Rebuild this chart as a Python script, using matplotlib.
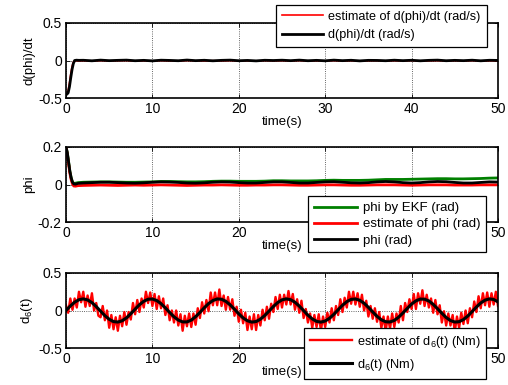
import numpy as np
import matplotlib
matplotlib.use("Agg")
import matplotlib.pyplot as plt

plt.rcParams["font.family"] = ["Liberation Sans", "DejaVu Sans"]
plt.rcParams["mathtext.default"] = "regular"
plt.rcParams["font.size"] = 9

# ---- d(phi)/dt: fast transient, then steady samples every second ----
t_rate_head = [0.0, 0.1, 0.25, 0.4, 0.55, 0.7, 0.85, 1.0, 1.2, 1.5]
rate_true_head = [-0.45, -0.45, -0.43, -0.35, -0.23, -0.12, -0.04, 0.0, 0.004, 0.002]
rate_est_head = [-0.45, -0.44, -0.40, -0.30, -0.18, -0.08, -0.02, -0.006, -0.004, -0.006]
t_tail = list(range(2, 51))
rate_true_tail = [0.003, -0.004, 0.005, -0.002, 0.002, 0.005, -0.003,
                  0.002, -0.005, 0.004, 0.001, -0.003, 0.006, -0.002,
                  0.003, -0.004, 0.002, 0.005, -0.003, 0.001, -0.005,
                  0.003, 0.000, 0.004, -0.002, 0.005, -0.003, 0.002,
                  -0.004, 0.005, -0.002, 0.003, -0.005, 0.002, 0.001,
                  -0.003, 0.004, -0.002, 0.003, -0.004, 0.002, 0.005,
                  -0.003, 0.002, -0.002, 0.004, -0.004, 0.003, 0.001]
rate_est_tail = [-0.004, -0.007, -0.002, -0.006, -0.003, -0.001, -0.008,
                 -0.004, -0.006, -0.002, -0.005, -0.007, -0.001, -0.004,
                 -0.006, -0.003, -0.005, -0.002, -0.007, -0.004, -0.006,
                 -0.002, -0.005, -0.003, -0.006, -0.001, -0.007, -0.004,
                 -0.005, -0.002, -0.006, -0.003, -0.007, -0.004, -0.002,
                 -0.006, -0.003, -0.005, -0.001, -0.007, -0.004, -0.002,
                 -0.006, -0.003, -0.005, -0.002, -0.007, -0.004, -0.003]

# ---- phi: true, observer estimate, EKF ----
t_phi_head = [0.0, 0.15, 0.3, 0.45, 0.6, 0.75, 0.9, 1.1, 1.4]
phi_true_head = [0.20, 0.17, 0.12, 0.07, 0.035, 0.012, 0.003, 0.002, 0.006]
phi_est_head = [0.20, 0.16, 0.11, 0.06, 0.025, 0.003, -0.008, -0.009, -0.006]
phi_ekf_head = [0.20, 0.17, 0.12, 0.07, 0.035, 0.013, 0.006, 0.007, 0.010]
phi_true_tail = [0.008, 0.010, 0.012, 0.012, 0.010, 0.008, 0.007,
                 0.009, 0.012, 0.014, 0.013, 0.011, 0.008, 0.007,
                 0.009, 0.012, 0.014, 0.013, 0.010, 0.008, 0.008,
                 0.011, 0.014, 0.014, 0.011, 0.008, 0.008, 0.011,
                 0.014, 0.015, 0.012, 0.009, 0.008, 0.010, 0.014,
                 0.016, 0.014, 0.010, 0.008, 0.010, 0.014, 0.016,
                 0.015, 0.011, 0.008, 0.008, 0.011, 0.014, 0.013]
phi_ekf_tail = [0.012, 0.013, 0.014, 0.014, 0.013, 0.012, 0.012,
                0.013, 0.014, 0.016, 0.016, 0.015, 0.014, 0.014,
                0.015, 0.017, 0.018, 0.018, 0.017, 0.017, 0.017,
                0.018, 0.020, 0.020, 0.019, 0.019, 0.019, 0.020,
                0.022, 0.023, 0.022, 0.022, 0.022, 0.023, 0.025,
                0.027, 0.027, 0.027, 0.028, 0.029, 0.030, 0.031,
                0.031, 0.030, 0.030, 0.031, 0.032, 0.034, 0.035]
phi_est_tail = [-0.005, -0.004, -0.003, -0.004, -0.005, -0.004, -0.003,
                -0.004, -0.003, -0.002, -0.003, -0.004, -0.005, -0.004,
                -0.003, -0.003, -0.002, -0.003, -0.004, -0.004, -0.003,
                -0.003, -0.002, -0.002, -0.003, -0.004, -0.004, -0.003,
                -0.002, -0.002, -0.003, -0.004, -0.004, -0.003, -0.002,
                -0.002, -0.002, -0.003, -0.004, -0.003, -0.002, -0.002,
                -0.002, -0.003, -0.003, -0.003, -0.002, -0.002, -0.002]

# ---- disturbance d6(t): true every 0.5 s, estimate every 0.25 s ----
t_d6 = np.arange(0, 50.01, 0.5)
d6_true = [0.000, 0.060, 0.111, 0.144, 0.155, 0.141, 0.105, 0.052, -0.009,
           -0.069, -0.117, -0.148, -0.154, -0.137, -0.098, -0.043, 0.018,
           0.077, 0.123, 0.150, 0.153, 0.133, 0.091, 0.035, -0.027, -0.084,
           -0.128, -0.152, -0.152, -0.128, -0.083, -0.026, 0.036, 0.092,
           0.133, 0.154, 0.150, 0.122, 0.075, 0.017, -0.045, -0.099, -0.137,
           -0.155, -0.147, -0.116, -0.067, -0.008, 0.053, 0.106, 0.142,
           0.155, 0.144, 0.110, 0.059, -0.001, -0.062, -0.112, -0.145,
           -0.155, -0.140, -0.104, -0.051, 0.010, 0.070, 0.118, 0.148,
           0.154, 0.136, 0.097, 0.042, -0.019, -0.078, -0.124, -0.150,
           -0.153, -0.132, -0.089, -0.033, 0.028, 0.086, 0.129, 0.152,
           0.151, 0.127, 0.082, 0.024, -0.037, -0.093, -0.134, -0.154,
           -0.149, -0.121, -0.074, -0.015, 0.046, 0.100, 0.138, 0.155,
           0.147, 0.115]
t_d6_est = np.arange(0, 50.01, 0.25)
d6_est = [0.07, -0.03, 0.16, 0.01, 0.16, 0.04, 0.25, 0.11,
          0.25, 0.05, 0.20, 0.06, 0.23, 0.00, 0.10, -0.07,
          -0.09, 0.06, -0.13, -0.00, -0.23, -0.06, -0.25, -0.09,
          -0.27, -0.07, -0.21, -0.02, -0.19, -0.02, -0.12, 0.10,
          -0.05, 0.14, -0.02, 0.16, 0.04, 0.25, 0.10, 0.24,
          0.06, 0.22, 0.02, 0.19, 0.03, 0.16, -0.06, 0.07,
          -0.13, 0.00, -0.16, 0.00, -0.20, -0.05, -0.27, -0.07,
          -0.21, -0.04, -0.22, -0.04, -0.19, 0.03, -0.10, 0.11,
          -0.04, 0.14, -0.01, 0.24, 0.07, 0.24, 0.07, 0.28,
          0.06, 0.20, 0.01, 0.18, 0.01, 0.15, -0.07, 0.05,
          -0.15, 0.01, -0.17, -0.03, -0.26, -0.08, -0.25, -0.05,
          -0.26, -0.06, -0.20, 0.01, -0.13, 0.05, -0.11, 0.09,
          -0.02, 0.18, 0.02, 0.21, 0.04, 0.21, 0.08, 0.26,
          0.08, 0.22, 0.01, 0.15, -0.03, 0.13, -0.10, 0.02,
          -0.16, -0.04, -0.23, -0.06, -0.22, -0.05, -0.27, -0.08,
          -0.22, -0.03, -0.16, 0.03, -0.13, 0.06, -0.06, 0.15,
          -0.02, 0.17, 0.04, 0.25, 0.09, 0.25, 0.08, 0.23,
          0.05, 0.21, 0.00, 0.13, -0.08, 0.06, -0.11, 0.03,
          -0.15, -0.02, -0.23, -0.08, -0.27, -0.08, -0.24, -0.04,
          -0.22, -0.04, -0.16, 0.06, -0.13, 0.10, -0.02, 0.15,
          0.02, 0.22, 0.02, 0.23, 0.09, 0.27, 0.06, 0.21,
          0.04, 0.16, -0.03, 0.14, -0.05, 0.07, -0.16, -0.01,
          -0.20, -0.04, -0.20, -0.06, -0.28, -0.08, -0.23, -0.03,
          -0.18, 0.00, -0.17, 0.03, -0.09, 0.12, -0.02, 0.19,
          0.03, 0.23, 0.07, 0.24, 0.05, 0.23, 0.08, 0.25, 0.06]

x_ticks = [0, 10, 20, 30, 40, 50]

RED = "#ff0000"
GREEN = "#008000"
BLACK = "#000000"


def style_axis(ax, yticks, hidden=()):
    ax.set_xlim(0, 50)
    ax.set_ylim(yticks[0], yticks[-1])
    ax.set_xticks(x_ticks)
    # tick labels sitting under a legend box are left blank
    ax.set_xticklabels(["" if v in hidden else str(v) for v in x_ticks])
    ax.set_yticks(yticks)
    ax.set_yticklabels([f"{v:g}" for v in yticks])
    ax.tick_params(direction="in", top=True, right=True, length=3, width=0.6,
                   labelsize=10, pad=3)
    ax.grid(True, ls=":", color="black", lw=0.6, alpha=0.8)
    for s in ax.spines.values():
        s.set_linewidth(1.2)
    ax.set_xlabel("time(s)", fontsize=9.5, labelpad=0)


def add_legend(fig, ax, x, y, spacing, size=9.5):
    leg = ax.legend(loc="upper left", bbox_to_anchor=(x, y),
                    bbox_transform=fig.transFigure, fontsize=size,
                    handlelength=3.3, handletextpad=0.4, borderpad=0.45,
                    borderaxespad=0, labelspacing=spacing, fancybox=False,
                    framealpha=1, edgecolor="black")
    leg.get_frame().set_linewidth(0.9)
    return leg


fig = plt.figure(figsize=(5.08, 3.85), dpi=100)
left, width, height = 66 / 508, 432 / 508, 75 / 385

# d(phi)/dt
ax1 = fig.add_axes([left, 1 - 98 / 385, width, height])
ax1.plot(t_rate_head + t_tail, rate_est_head + rate_est_tail, color=RED,
         lw=1.2, label="estimate of d(phi)/dt (rad/s)")
ax1.plot(t_rate_head + t_tail, rate_true_head + rate_true_tail, color=BLACK,
         lw=2.0, label="d(phi)/dt (rad/s)")
style_axis(ax1, [-0.5, 0, 0.5])
ax1.set_ylabel("d(phi)/dt", fontsize=9.5, labelpad=2)
add_legend(fig, ax1, 276 / 508, 1 - 5 / 385, 0.5, size=9.1)

# phi
ax2 = fig.add_axes([left, 1 - 222 / 385, width, height])
ax2.plot(t_phi_head + t_tail, phi_ekf_head + phi_ekf_tail, color=GREEN,
         lw=2.0, label="phi by EKF (rad)")
ax2.plot(t_phi_head + t_tail, phi_est_head + phi_est_tail, color=RED,
         lw=2.0, label="estimate of phi (rad)")
ax2.plot(t_phi_head + t_tail, phi_true_head + phi_true_tail, color=BLACK,
         lw=2.0, label="phi (rad)")
style_axis(ax2, [-0.2, 0, 0.2], hidden=(30, 40))
ax2.set_ylabel("phi", fontsize=9.5, labelpad=2)
add_legend(fig, ax2, 308 / 508, 1 - 196 / 385, 0.3)

# d6(t)
ax3 = fig.add_axes([left, 1 - 348 / 385, width, height])
ax3.plot(t_d6_est, d6_est, color=RED, lw=1.7,
         label="estimate of d$_6$(t) (Nm)")
ax3.plot(t_d6, d6_true, color=BLACK, lw=2.2, label="d$_6$(t) (Nm)")
style_axis(ax3, [-0.5, 0, 0.5], hidden=(30, 40))
ax3.set_ylabel("d$_6$(t)", fontsize=9.5, labelpad=2)
add_legend(fig, ax3, 304 / 508, 1 - 328 / 385, 0.55, size=9.2)

fig.savefig("out.png", dpi=100)
